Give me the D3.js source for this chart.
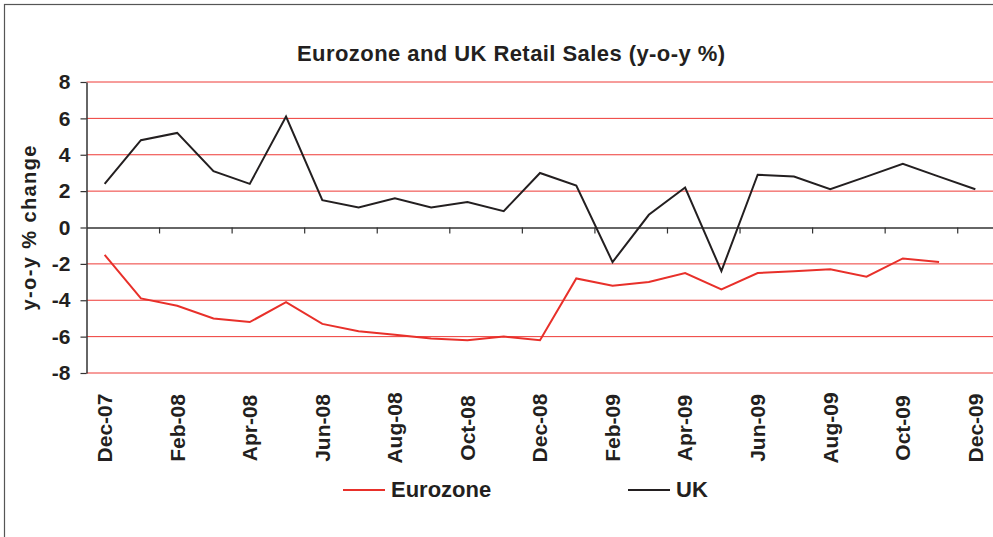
<!DOCTYPE html>
<html>
<head>
<meta charset="utf-8">
<script src="https://cdn.jsdelivr.net/npm/d3@7"></script>
<style>
  body { margin: 0; background: #fff; }
  svg { display: block; }
</style>
</head>
<body>
<svg width="993" height="537"></svg>
<script>
'use strict';
const months = ['Dec-07','Jan-08','Feb-08','Mar-08','Apr-08','May-08','Jun-08','Jul-08','Aug-08','Sep-08','Oct-08','Nov-08',
  'Dec-08','Jan-09','Feb-09','Mar-09','Apr-09','May-09','Jun-09','Jul-09','Aug-09','Sep-09','Oct-09','Nov-09','Dec-09'];
const eurozone = [-1.5,-3.9,-4.3,-5.0,-5.2,-4.1,-5.3,-5.7,-5.9,-6.1,-6.2,-6.0,
  -6.2,-2.8,-3.2,-3.0,-2.5,-3.4,-2.5,-2.4,-2.3,-2.7,-1.7,-1.9,null];
const uk = [2.4,4.8,5.2,3.1,2.4,6.1,1.5,1.1,1.6,1.1,1.4,0.9,
  3.0,2.3,-1.9,0.7,2.2,-2.4,2.9,2.8,2.1,2.8,3.5,2.8,2.1];
const y_ticks = [-8,-6,-4,-2,0,2,4,6,8];
const series = [
  {name: 'Eurozone', values: eurozone, color: '#e8302a'},
  {name: 'UK', values: uk, color: '#231f20'}
];

const svg = d3.select('svg');
const margin = {top: 82, left: 86.5};
const chart_width = 907;
const chart_height = 291;
const bold_font = '"Liberation Sans", Arial, sans-serif';
const narrow_font = '"Liberation Sans Narrow", "Arial Narrow", "Liberation Sans", Arial, sans-serif';

//frame
svg.append('rect')
  .attr('x', 4.5).attr('y', 4.5)
  .attr('width', 1000).attr('height', 600)
  .attr('fill', 'none')
  .attr('stroke', '#555')
  .attr('stroke-width', 1.2);

//title
svg.append('text')
  .attr('x', 297).attr('y', 61)
  .attr('font-family', narrow_font)
  .attr('font-weight', 'bold')
  .attr('font-size', 22)
  .attr('fill', '#231f20')
  .attr('textLength', 428)
  .attr('lengthAdjust', 'spacing')
  .text('Eurozone and UK Retail Sales (y-o-y %)');

const chart_g = svg.append('g').attr('transform', `translate(${margin.left}, ${margin.top})`);

const x_scale = d3.scaleBand().domain(months).range([0, chart_width]);
const edge_scale = d3.scaleLinear().domain([0, months.length]).range([0, chart_width]);
const y_scale = d3.scaleLinear().domain([-8, 8]).range([chart_height, 0]);
const x_mid = d => x_scale(d) + x_scale.bandwidth() / 2;

//gridlines
chart_g.append('g')
  .selectAll('line').data(y_ticks.filter(d => d !== 0)).enter()
  .append('line')
    .attr('x1', 0).attr('x2', chart_width)
    .attr('y1', d => y_scale(d)).attr('y2', d => y_scale(d))
    .attr('stroke', '#ee3a36')
    .attr('stroke-width', 1);

//left axis (plain hyphen for negatives, like the original)
const y_axis = chart_g.append('g')
  .call(d3.axisLeft(y_scale).tickValues(y_ticks).tickFormat(d => String(d))
    .tickSize(6).tickPadding(10).tickSizeOuter(0));
y_axis.select('.domain').attr('stroke', '#333').attr('stroke-width', 1.5);
y_axis.selectAll('.tick line').attr('stroke', '#333').attr('stroke-width', 1.2);
y_axis.selectAll('.tick text')
  .attr('font-family', bold_font)
  .attr('font-weight', 'bold')
  .attr('font-size', 21)
  .attr('fill', '#231f20');

//zero axis with ticks between every second month
const x_axis = chart_g.append('g')
  .attr('transform', `translate(0,${y_scale(0)})`)
  .call(d3.axisBottom(edge_scale)
    .tickValues(d3.range(2, months.length, 2))
    .tickSize(6).tickSizeOuter(0).tickFormat(''));
x_axis.select('.domain').attr('stroke', '#333').attr('stroke-width', 1.5);
x_axis.selectAll('.tick line').attr('stroke', '#333').attr('stroke-width', 1.2);

//month labels below the plot
chart_g.append('g')
  .selectAll('text').data(months.filter((d, i) => i % 2 === 0)).enter()
  .append('text')
    .attr('transform', d => `translate(${x_mid(d)},${428 - margin.top}) rotate(-90)`)
    .attr('dy', '0.35em')
    .attr('text-anchor', 'middle')
    .attr('font-family', bold_font)
    .attr('font-weight', 'bold')
    .attr('font-size', 21)
    .attr('fill', '#231f20')
    .text(d => d);

//y label
svg.append('text')
  .attr('transform', `translate(36,${margin.top + y_scale(0) + 83}) rotate(-90)`)
  .attr('font-family', bold_font)
  .attr('font-weight', 'bold')
  .attr('font-size', 20)
  .attr('fill', '#231f20')
  .attr('textLength', 165)
  .attr('lengthAdjust', 'spacing')
  .text('y-o-y % change');

//lines
const line = d3.line()
  .defined(d => d !== null)
  .x((d, i) => x_mid(months[i]))
  .y(d => y_scale(d));

chart_g.append('g')
  .selectAll('path').data(series).enter()
  .append('path')
    .attr('d', d => line(d.values))
    .attr('fill', 'none')
    .attr('stroke', d => d.color)
    .attr('stroke-width', 2)
    .attr('stroke-linejoin', 'miter');

//legend
const legend = svg.append('g')
  .selectAll('g').data(series).enter()
  .append('g')
    .attr('transform', (d, i) => `translate(${i === 0 ? 343 : 628},490)`);

legend.append('line')
  .attr('x1', 0).attr('x2', 42)
  .attr('stroke', d => d.color)
  .attr('stroke-width', 2);

legend.append('text')
  .attr('x', 48)
  .attr('y', 7)
  .attr('font-family', bold_font)
  .attr('font-weight', 'bold')
  .attr('font-size', 22)
  .attr('fill', '#231f20')
  .text(d => d.name);
</script>
</body>
</html>
